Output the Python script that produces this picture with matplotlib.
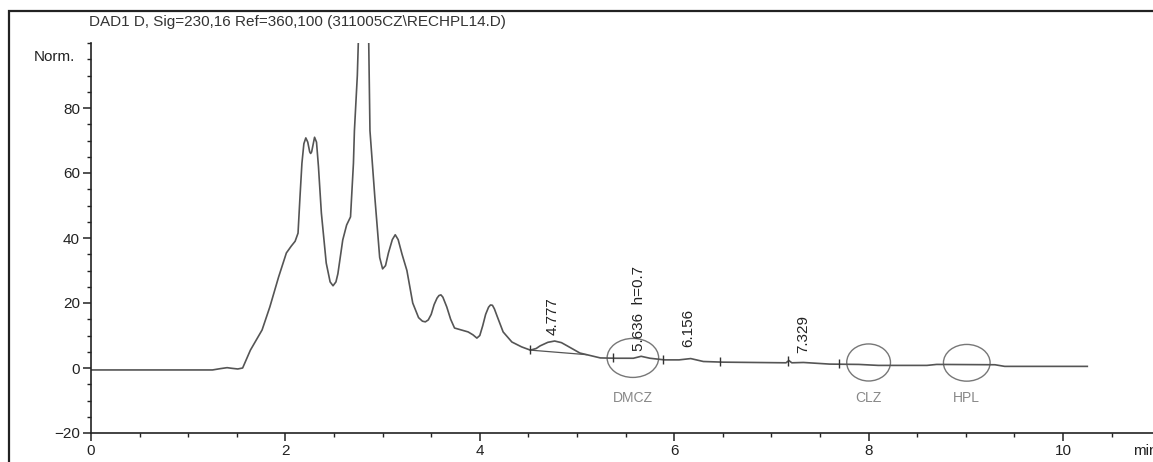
import matplotlib.pyplot as plt
import numpy as np
from matplotlib.patches import Ellipse

plt.rcParams['font.family'] = ['Liberation Sans Narrow', 'Liberation Sans', 'DejaVu Sans']

# trace (min, Norm.)
time = [0.00, 1.25, 1.33, 1.40, 1.45, 1.51, 1.56, 1.64, 1.76, 1.84, 1.93, 2.01,
        2.06, 2.10, 2.13, 2.15, 2.17, 2.19, 2.21, 2.23, 2.25, 2.26, 2.27, 2.29,
        2.30, 2.32, 2.34, 2.37, 2.42, 2.46, 2.49, 2.52, 2.54, 2.59, 2.63, 2.67,
        2.70, 2.71, 2.74, 2.755, 2.80, 2.855, 2.87, 2.92, 2.97, 3.00, 3.03, 3.06,
        3.10, 3.13, 3.16, 3.20, 3.25, 3.31, 3.37, 3.41, 3.44, 3.47, 3.50, 3.53,
        3.56, 3.58, 3.60, 3.62, 3.66, 3.70, 3.74, 3.81, 3.88, 3.93, 3.97, 4.00,
        4.03, 4.06, 4.09, 4.11, 4.13, 4.15, 4.18, 4.24, 4.33, 4.43, 4.52, 4.58,
        4.62, 4.70, 4.77, 4.84, 4.90, 5.03, 5.24, 5.40, 5.58, 5.66, 5.75, 5.90,
        6.05, 6.17, 6.30, 6.50, 7.15, 7.18, 7.21, 7.33, 7.60, 7.90, 8.10, 8.60,
        8.70, 9.30, 9.40, 10.25]
signal = [-0.6, -0.6, -0.2, 0.1, -0.1, -0.3, 0.0, 5.5, 11.7, 18.8, 28.0, 35.4,
          37.5, 39.0, 41.5, 52.6, 63.0, 69.0, 70.8, 69.5, 66.5, 66.0, 66.5, 69.5,
          71.0, 69.5, 62.0, 47.7, 32.3, 26.5, 25.3, 26.5, 29.0, 39.4, 44.0, 46.5,
          63.0, 73.0, 90.0, 105.0, 120.0, 105.0, 73.0, 52.6, 34.0, 30.5, 31.5, 35.4,
          39.5, 41.0, 39.5, 35.0, 30.0, 20.0, 15.5, 14.4, 14.2, 14.8, 16.5, 19.5,
          21.5, 22.3, 22.5, 21.8, 18.8, 15.0, 12.3, 11.7, 11.1, 10.2, 9.2, 10.0,
          13.0, 16.5, 18.7, 19.4, 19.3, 18.2, 15.8, 11.1, 8.0, 6.5, 5.5, 6.0,
          6.8, 7.9, 8.3, 7.8, 6.8, 4.6, 3.1, 3.0, 3.0, 3.6, 3.0, 2.5,
          2.5, 2.9, 2.0, 1.8, 1.6, 2.3, 1.6, 1.7, 1.2, 1.1, 0.8, 0.8,
          1.1, 1.0, 0.5, 0.5]

# integration baseline under 4.777 peak
base_t = [4.52, 5.10]
base_v = [5.5, 4.1]

# integration event markers
event_t = [4.52, 5.37, 5.88, 6.47, 7.17, 7.70]

# peak labels (rotated)
peak_labels = ['4.777', '5.636  h=0.7', '6.156', '7.329']
peak_t = [4.75, 5.64, 6.14, 7.33]
peak_v = [10.2, 5.2, 6.5, 4.6]

# circled compounds
cmp_names = ['DMCZ', 'CLZ', 'HPL']
cmp_t = [5.575, 8.00, 9.01]
cmp_v = [3.1, 1.7, 1.6]
cmp_w = [0.53, 0.45, 0.48]
cmp_h = [12.0, 11.4, 11.3]

W, H = 1153, 462
fig = plt.figure(figsize=(W / 100, H / 100), dpi=100)
fig.patch.set_facecolor('white')

# outer frame: left and top edges only (right/bottom lie outside the picture)
frame = fig.add_axes([0, 0, 1, 1], zorder=-1)
frame.set_xlim(0, W)
frame.set_ylim(H, 0)
frame.axis('off')
frame.plot([9, 9, W + 5], [H + 5, 11, 11], color='#222222', lw=1.6, solid_joinstyle='miter')

ax = fig.add_axes([91 / W, (H - 433) / H, (W - 91) / W, (433 - 43) / H])
ax.patch.set_alpha(0)
ax.set_xlim(0, (W - 91) / 97.2)
ax.set_ylim(-20, 100)

ax.plot(time, signal, color='#555555', lw=1.2)
ax.plot(base_t, base_v, color='#555555', lw=0.9)

ev_v = np.interp(event_t, time, signal)
ax.vlines(event_t, ev_v - 1.3, ev_v + 1.5, color='#333333', lw=1.0)

for lab, t, v in zip(peak_labels, peak_t, peak_v):
    ax.text(t, v, lab, rotation=90, ha='center', va='bottom', fontsize=11, color='#222222')

for name, t, v, w, h in zip(cmp_names, cmp_t, cmp_v, cmp_w, cmp_h):
    ax.add_patch(Ellipse((t, v), w, h, fill=False, edgecolor='#777777', lw=1.0))
    ax.text(t, -9.3, name, ha='center', va='center', fontsize=10, color='#888888')

# axes styling
for s in ['top', 'right']:
    ax.spines[s].set_visible(False)
for s in ['left', 'bottom']:
    ax.spines[s].set_color('#222222')
    ax.spines[s].set_linewidth(1.2)

ax.set_xticks([0, 2, 4, 6, 8, 10])
ax.set_xticks(np.arange(0, 11, 0.5), minor=True)
ax.set_yticks([-20, 0, 20, 40, 60, 80])
ax.set_yticks(np.arange(-20, 101, 5), minor=True)
ax.tick_params(axis='both', which='major', direction='out', length=6, width=1.1,
               labelsize=11, colors='#222222', pad=2)
ax.tick_params(axis='both', which='minor', direction='out', length=3, width=1.0, colors='#222222')

ax.text(-0.16, 95.7, 'Norm.', ha='right', va='center', fontsize=11, color='#222222')
# axis unit, cut at the right edge as in the original
ax.text(10.72, -23.5, 'min', ha='left', va='top', fontsize=11, color='#222222', clip_on=False)

fig.text(297 / W, 1 - 22 / H, r'DAD1 D, Sig=230,16 Ref=360,100 (311005CZ\RECHPL14.D)',
         ha='center', va='center', fontsize=11, color='#333333')

plt.savefig('out.png', dpi=100)
plt.close()
